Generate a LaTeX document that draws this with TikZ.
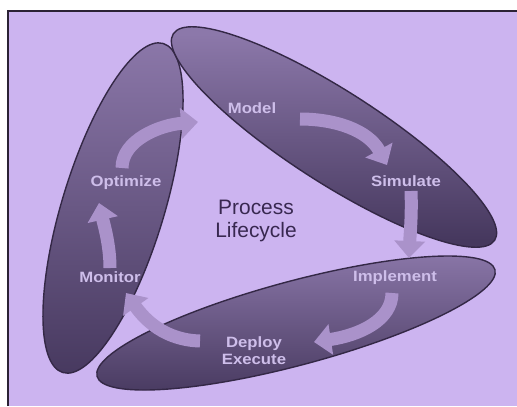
\documentclass[tikz,border=0pt]{standalone}
\usepackage{fontspec}
\setmainfont{Liberation Sans}
\newfontfamily\labfont[FakeStretch=1.12]{Liberation Sans}
\usetikzlibrary{arrows.meta}

\definecolor{bg}{RGB}{204,180,240}
\definecolor{frameline}{RGB}{43,34,53}
\definecolor{rim}{RGB}{52,40,70}
\definecolor{ringtop}{RGB}{140,120,170}
\definecolor{ringbot}{RGB}{70,56,94}
\definecolor{flow}{RGB}{170,146,202}
\definecolor{labtext}{RGB}{206,190,234}
\definecolor{titletext}{RGB}{56,40,80}

\tikzset{
  ring/.style={draw=rim, line width=1.4bp, top color=ringtop, bottom color=ringbot},
  stage/.style={font=\labfont\bfseries\fontsize{15}{17}\selectfont, text=labtext,
                inner sep=1bp, align=center},
  flowarrow/.style={draw=flow, line width=13bp,
                    -{Triangle[length=17bp,width=30bp]}},
}

\begin{document}
\begin{tikzpicture}[x=1bp, y=-1bp]
  \useasboundingbox (0,0) rectangle (517,406);
  % slide area with its frame
  \fill[white] (0,0) rectangle (517,406);
  \fill[bg] (8,11) rectangle (517,406);
  \draw[frameline, line width=1.6bp] (8,406) -- (8,11) -- (517,11);

  % the three lifecycle rings
  \path[ring] (113,208) ellipse [x radius=172, y radius=51, rotate=73];
  \path[ring] (334,137) ellipse [x radius=191, y radius=46, rotate=-32.7];
  \path[ring] (296,323) ellipse [x radius=206, y radius=42, rotate=15];

  % stage labels
  \node[stage] (model)    at (252,108) {Model};
  \node[stage] (simulate) at (406,181) {Simulate};
  \node[stage] (implement) at (395,278) {Implement};
  \node[stage] (deploy)   at (254,351) {Deploy\\Execute};
  \node[stage] (monitor)  at (110,277) {Monitor};
  \node[stage] (optimize) at (126,183) {Optimize};

  \node[font=\fontsize{21}{23}\selectfont, text=titletext, align=center]
    (title) at (256,221) {Process\\Lifecycle};

  % arrow ends
  \coordinate (m1) at (300,119);  \coordinate (s0) at (387,165);
  \coordinate (s1) at (411,191);  \coordinate (i0) at (409,258);
  \coordinate (i1) at (392,293);  \coordinate (d0) at (314,342);
  \coordinate (d1) at (200,341);  \coordinate (n0) at (126,293);
  \coordinate (n1) at (110,268);  \coordinate (o0) at (99,203);
  \coordinate (o1) at (122,168);  \coordinate (m0) at (198,122);

  % flow between the stages
  \draw[flowarrow] (m1) .. controls (335,119) and (368,130) .. (s0);
  \draw[flowarrow] (s1) .. controls (412,215) and (410,235) .. (i0);
  \draw[flowarrow] (i1) .. controls (392,320) and (360,335) .. (d0);
  \draw[flowarrow] (d1) .. controls (165,340) and (145,320) .. (n0);
  \draw[flowarrow] (n1) .. controls (110,245) and (104,225) .. (o0);
  \draw[flowarrow] (o1) .. controls (122,140) and (160,125) .. (m0);
\end{tikzpicture}
\end{document}
